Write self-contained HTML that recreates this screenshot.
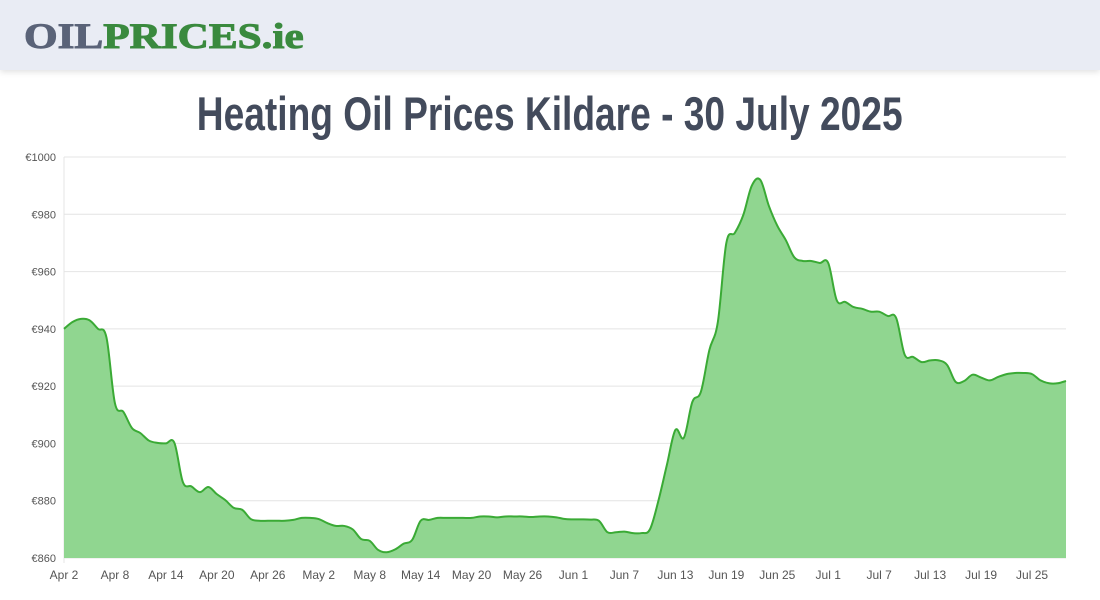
<!DOCTYPE html>
<html><head><meta charset="utf-8">
<style>
html,body{margin:0;padding:0;background:#fff;width:1100px;height:600px;overflow:hidden;font-family:"Liberation Sans",sans-serif}
#hdr{position:absolute;left:0;top:0;width:1100px;height:70px;background:#e9ecf4;box-shadow:0 2px 6px rgba(0,0,0,0.12)}
#logo{position:absolute;left:24px;top:16px;font-family:"Liberation Serif",serif;font-weight:bold;font-size:36px;line-height:40px;transform:scaleX(1.2);transform-origin:left;-webkit-text-stroke:1px currentColor}
#title{position:absolute;left:0;top:82px;width:1100px;text-align:center;line-height:64px}
#title span{display:inline-block;font-family:"Liberation Sans",sans-serif;font-weight:bold;font-size:47px;color:#434b5c;transform:scaleX(0.79)}
</style></head><body>
<div id="hdr">
<div id="logo"><span style="color:#5a6378">OIL</span><span style="color:#3a8a3e">PRICES.ie</span></div>
</div>
<div id="title"><span>Heating Oil Prices Kildare - 30 July 2025</span></div>
<svg id="chart" width="1100" height="600" style="position:absolute;left:0;top:0"></svg>
<script>
const prices=[940,942.4,943.5,943,940,937,914,911,905.4,903.6,901,900.2,900,900.2,886.5,885,883,884.8,882.3,880.2,877.5,876.8,873.6,873,873,873,873,873.3,874,874,873.6,872.2,871.2,871.2,870,866.6,866,862.8,862,863,865,866.3,873,873.3,874,874,874,874,874,874.5,874.5,874.2,874.5,874.5,874.5,874.3,874.5,874.5,874.2,873.6,873.5,873.5,873.4,873,869,869,869.2,868.7,868.7,870,880,892.5,904.7,902,914.5,918,932.6,942.4,970,973.5,979.8,990,992,983,976,971,965,963.7,963.7,963,963,950,949.4,947.6,947,946,946,944.5,943.8,931,930.2,928.4,929,929,927.4,921.5,921.8,924,923,922,923.2,924.2,924.6,924.6,924.2,922,921,921,921.8];
const yTicks=[860,880,900,920,940,960,980,1000];
const xTickLabels=["Apr 2","Apr 8","Apr 14","Apr 20","Apr 26","May 2","May 8","May 14","May 20","May 26","Jun 1","Jun 7","Jun 13","Jun 19","Jun 25","Jul 1","Jul 7","Jul 13","Jul 19","Jul 25"];
const xTickStep=6;
const svg=document.getElementById('chart');
const NS='http://www.w3.org/2000/svg';
const L=64,R=1066,T=157,B=558,YMIN=860,YMAX=1000;
const dx=(R-L)/(prices.length-1);
function X(i){return L+i*dx;}
function Y(v){return B-(v-YMIN)/(YMAX-YMIN)*(B-T);}
function mk(t,a){const e=document.createElementNS(NS,t);for(const k in a)e.setAttribute(k,a[k]);svg.appendChild(e);return e;}
yTicks.forEach(v=>{
 const g=mk('line',{x1:L,x2:R,y1:Y(v),y2:Y(v),stroke:'#e4e4e4','stroke-width':1});
 
 
 const t=mk('text',{x:56,y:Y(v)+4,'text-anchor':'end','font-size':11,fill:'#555','font-family':'Liberation Sans, sans-serif'});
 t.textContent='€'+v;
 
 
});
const ax=mk('line',{x1:L,x2:L,y1:T,y2:B+5,stroke:'#e4e4e4'});


xTickLabels.forEach((s,k)=>{
 const t=mk('text',{x:X(k*xTickStep),y:579,'text-anchor':'middle','font-size':12,fill:'#555','font-family':'Liberation Sans, sans-serif'});
 t.textContent=s;
 
 
});
const pts=prices.map((v,i)=>[X(i),Y(v)]);
let d='M'+pts[0][0]+','+pts[0][1];
const tn=0.35;
for(let i=0;i<pts.length-1;i++){
 const p0=pts[Math.max(0,i-1)],p1=pts[i],p2=pts[i+1],p3=pts[Math.min(pts.length-1,i+2)];
 const c1=[p1[0]+(p2[0]-p0[0])*tn/2,p1[1]+(p2[1]-p0[1])*tn/2];
 const c2=[p2[0]-(p3[0]-p1[0])*tn/2,p2[1]-(p3[1]-p1[1])*tn/2];
 d+=' C'+c1[0]+','+c1[1]+' '+c2[0]+','+c2[1]+' '+p2[0]+','+p2[1];
}
const last=pts[pts.length-1];
const area=mk('path',{d:d+' L'+last[0]+','+B+' L'+L+','+B+' Z',fill:'#90d690'});


const line=mk('path',{d:d,fill:'none',stroke:'#3aaa35','stroke-width':2});


</script>
</body></html>
